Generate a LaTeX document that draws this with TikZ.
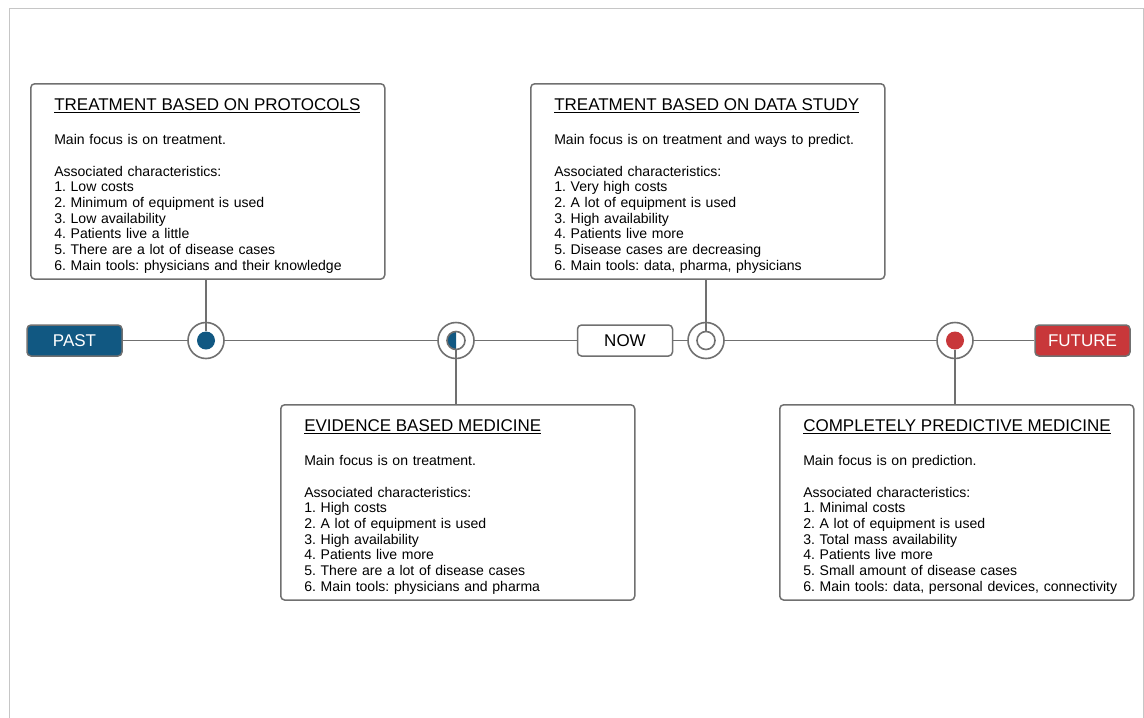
\documentclass[tikz,border=0pt]{standalone}
\usepackage{fontspec}
\setmainfont{Liberation Sans}
\definecolor{pastblue}{RGB}{17,88,130}
\definecolor{futurered}{RGB}{200,55,58}
\definecolor{linegray}{RGB}{112,112,112}
\tikzset{
  era/.style={draw=linegray,line width=1.5pt,rounded corners=4pt,
    minimum width=95pt,minimum height=31pt,inner sep=0pt,
    font=\fontsize{17}{20}\selectfont},
  card/.style={draw=linegray,line width=1.5pt,rounded corners=4pt,
    anchor=north west,text width=336pt,inner xsep=9pt,inner ysep=4pt,
    align=left,font=\fontsize{14.05}{15.7}\selectfont\frenchspacing},
  ring/.style={circle,draw=linegray,line width=1.6pt,fill=white,
    minimum size=36pt,inner sep=0pt},
  dot/.style={circle,minimum size=18pt,inner sep=0pt},
  conn/.style={draw=linegray,line width=1.6pt},
}
\newcommand{\cardtext}[2]{\begin{tabular}{@{\hspace{14.5pt}}l@{}}
  \rule{0pt}{23pt}{\fontsize{17}{20}\selectfont\underline{#1}}\\[18.3pt]
  #2\end{tabular}}
\begin{document}
\begin{tikzpicture}[x=1pt,y=-1pt]
\useasboundingbox (0,0) rectangle (1144,718);
\draw[gray!45,line width=1pt] (9.5,718)--(9.5,8.5)--(1143,8.5)--(1143,718);
\node[era,fill=pastblue,text=white] (past) at (74.5,340.5) {PAST};
\node[era,fill=white] (now) at (625,340.5) {NOW};
\node[era,fill=futurered,text=white] (future) at (1082.5,340.5) {FUTURE};
\foreach \n/\x in {1/206,2/456,3/706,4/955}
  \node[ring] (c\n) at (\x,340.5) {};
\node[card] (protocols) at (30,83) {\cardtext{TREATMENT BASED ON PROTOCOLS}{%
Main focus is on treatment.\\[15.7pt]
Associated characteristics:\\
1. Low costs\\
2. Minimum of equipment is used\\
3. Low availability\\
4. Patients live a little\\
5. There are a lot of disease cases\\
6. Main tools: physicians and their knowledge}};
\node[card] (datastudy) at (530,83) {\cardtext{TREATMENT BASED ON DATA STUDY}{%
Main focus is on treatment and ways to predict.\\[15.7pt]
Associated characteristics:\\
1. Very high costs\\
2. A lot of equipment is used\\
3. High availability\\
4. Patients live more\\
5. Disease cases are decreasing\\
6. Main tools: data, pharma, physicians}};
\node[card] (evidence) at (280,404) {\cardtext{EVIDENCE BASED MEDICINE}{%
Main focus is on treatment.\\[15.7pt]
Associated characteristics:\\
1. High costs\\
2. A lot of equipment is used\\
3. High availability\\
4. Patients live more\\
5. There are a lot of disease cases\\
6. Main tools: physicians and pharma}};
\node[card] (predictive) at (779,404) {\cardtext{COMPLETELY PREDICTIVE MEDICINE}{%
Main focus is on prediction.\\[15.7pt]
Associated characteristics:\\
1. Minimal costs\\
2. A lot of equipment is used\\
3. Total mass availability\\
4. Patients live more\\
5. Small amount of disease cases\\
6. Main tools: data, personal devices, connectivity}};
\draw[conn] (past)--(c1);
\draw[conn] (c1)--(c2);
\draw[conn] (c2)--(now);
\draw[conn] (now)--(c3);
\draw[conn] (c3)--(c4);
\draw[conn] (c4)--(future);
\node[dot,fill=pastblue] (d1) at (c1) {};
\node[dot,fill=white] (d2) at (c2) {};
\fill[pastblue] (d2.north) arc[start angle=90,end angle=270,radius=9pt]--cycle;
\draw[linegray,line width=1.6pt] (d2) circle[radius=9pt];
\node[dot,draw=linegray,line width=1.6pt,fill=white] (d3) at (c3) {};
\node[dot,fill=futurered] (d4) at (c4) {};
\draw[conn] (d1.north|-protocols.south)--(d1.north);
\draw[conn] (d2.south)--(d2.south|-evidence.north);
\draw[conn] (d3.north|-datastudy.south)--(d3.north);
\draw[conn] (d4.south)--(d4.south|-predictive.north);
\end{tikzpicture}
\end{document}
